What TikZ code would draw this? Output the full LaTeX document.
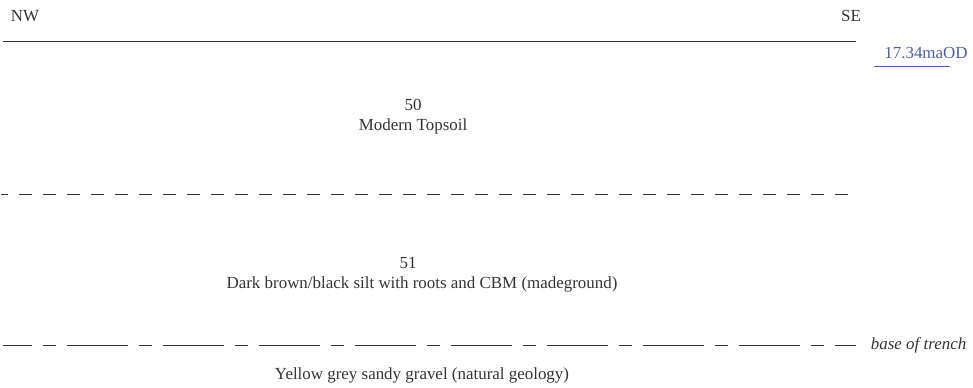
\documentclass[tikz,border=0pt]{standalone}
\usepackage{fontspec}
\setmainfont{Liberation Serif}
\usetikzlibrary{positioning}
\definecolor{secink}{HTML}{333333}
\definecolor{secblue}{HTML}{4A5FAA}

\begin{document}
\begin{tikzpicture}[
  x=0.75pt, y=-0.75pt,
  font=\fontsize{12.7}{14.3}\selectfont, text=secink,
  lbl/.style={inner sep=0pt, align=center},
  edge/.style={draw=secink, line width=0.75pt},
  cut/.style={edge, dash pattern=on 9.75pt off 8.25pt, dash phase=4.5pt},
  basecut/.style={edge, dash pattern=on 45.75pt off 8.25pt on 9.75pt off 8.25pt, dash phase=24pt},
]
  \useasboundingbox (0,0) rectangle (973,388);
  \node[lbl] (nw) at (25,16) {NW};
  \node[lbl] (se) at (851,16) {SE};
  \coordinate (topW) at (3,42);
  \coordinate (topE) at (856,42);
  \draw[edge] (topW) -- (topE);
  \node[lbl, text=secblue] (lvl) at (926,53) {17.34maOD};
  \coordinate (lvlW) at (874,67);
  \coordinate (lvlE) at (950,67);
  \draw[secblue, line width=0.75pt] (lvlW) -- (lvlE);
  \node[lbl] (c50) at (413,105) {50};
  \node[lbl, below=6pt of c50] (d50) {Modern Topsoil};
  \coordinate (midW) at (1,195);
  \coordinate (midE) at (848,195);
  \draw[cut] (midW) -- (midE);
  \node[lbl] (c51) at (408,263) {51};
  \node[lbl, below=6pt of c51, xshift=10.5pt] (d51) {Dark brown/black silt with roots and CBM (madeground)};
  \coordinate (baseW) at (3,345);
  \coordinate (baseE) at (856,345);
  \draw[basecut] (baseW) -- (baseE);
  \node[lbl, font=\fontsize{12.7}{14.3}\selectfont\itshape, right=11pt of baseE] (trench) {base of trench};
  \node[lbl] (nat) at (422,375) {Yellow grey sandy gravel (natural geology)};
\end{tikzpicture}
\end{document}
